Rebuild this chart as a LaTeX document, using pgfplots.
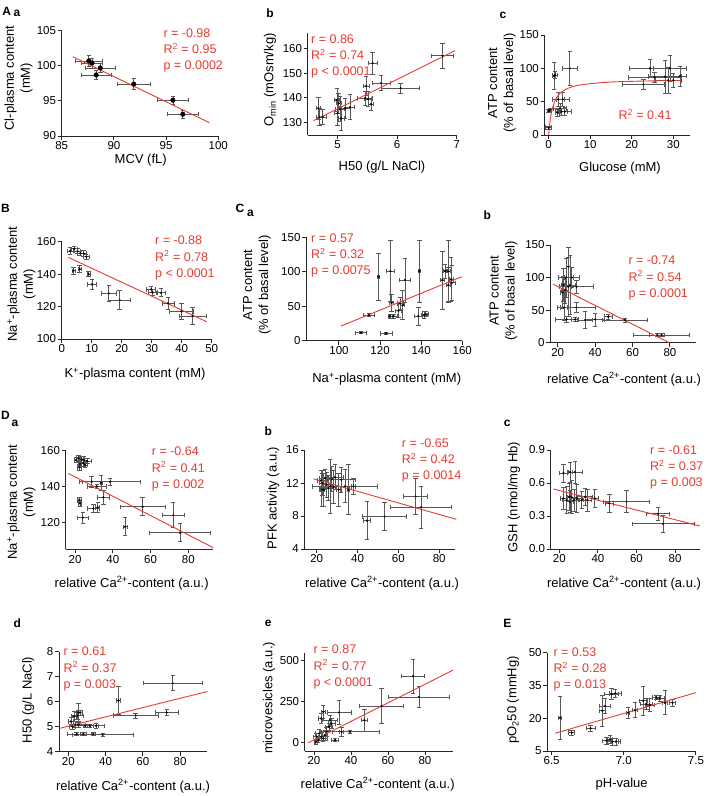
\documentclass[border=0pt]{standalone}
\usepackage{fontspec}
\setmainfont{Liberation Sans}
\usepackage{pgfplots}
\pgfplotsset{compat=1.18}
\definecolor{rred}{RGB}{232,58,46}
\definecolor{ebar}{RGB}{88,88,88}
\newcommand{\lab}{\fontsize{13}{16}\selectfont}
\newcommand{\st}{\fontsize{12.5}{15}\selectfont}
\pgfplotsset{
  gp/.style={
    scale only axis, anchor=south west,
    axis x line*=bottom, axis y line*=left,
    axis line style={-, line width=1pt, black!85},
    tick style={line width=1pt, black!85},
    major tick length=4pt,
    tick align=outside,
    ticklabel style={font=\fontsize{11.5}{13}\selectfont, inner sep=1.5pt},
    /pgf/number format/assume math mode=true,
    clip=false,
  },
  eb/.style={only marks, mark=*, mark size=0.9pt, mark options={fill=black, draw=black},
    error bars/x dir=both, error bars/x explicit, error bars/y dir=both, error bars/y explicit,
    error bars/error bar style={line width=0.75pt, ebar},
    error bars/error mark options={rotate=90, line width=0.75pt, ebar, mark size=2.2pt}},
  fit/.style={rred, line width=0.9pt, no marks},
}
\tikzset{
  ylab/.style={rotate=90, align=center, font=\lab, inner sep=0pt},
  xlab/.style={font=\lab, inner sep=0pt},
  stat/.style={font=\st, text=rred, inner sep=0pt, anchor=west, text height=9pt, text depth=2.5pt},
  plab/.style={font=\fontsize{12}{14}\selectfont\bfseries, inner sep=0pt},
}
\newcommand{\stats}[5]{\node[stat] at (#1pt,-#2pt) {#3};\node[stat,yshift=-16.2pt] at (#1pt,-#2pt) {#4};\node[stat,yshift=-32.4pt] at (#1pt,-#2pt) {#5};}
\begin{document}
\begin{tikzpicture}
\path[use as bounding box] (0,0) rectangle (708pt,-796pt);
% ---------------- A a
\begin{axis}[gp, at={(61.7pt,-136pt)}, width=156.6pt, height=105.3pt, xmin=85, xmax=100, ymin=90, ymax=105, xtick={85,90,95,100}, ytick={90,95,100,105}]
\addplot[eb, mark size=2.3pt] table[row sep=\\, x=x, y=y, x error=ex, y error=ey]{
x y ex ey\\
87.6 100.7 1.25 0.8\\
87.9 100.4 1.0 0.7\\
88.7 99.7 1.4 0.6\\
88.3 98.7 1.45 0.6\\
91.9 97.4 1.6 0.8\\
95.65 95.1 1.5 0.6\\
96.6 93.1 1.5 0.6\\
};
\addplot[fit] coordinates {(86.05,101.3) (99.14,91.9)};
\end{axis}
% ---------------- A b
\begin{axis}[gp, at={(307.7pt,-135pt)}, width=149pt, height=101.6pt, xmin=4.5, xmax=7, ymin=125, ymax=166, xtick={5,6,7}, ytick={130,140,150,160}]
\addplot[eb] table[row sep=\\, x=x, y=y, x error=ex, y error=ey]{
x y ex ey\\
4.70 132.2 0.05 3.5\\
4.68 135.8 0.04 4.5\\
4.75 132.3 0.06 3\\
5.00 133.8 0.05 5\\
5.02 137.8 0.04 4\\
5.04 135.4 0.08 5\\
5.06 131.7 0.05 5\\
4.99 139.2 0.04 4.5\\
5.13 135.8 0.08 4\\
5.21 136.2 0.08 5\\
5.46 139.8 0.12 3\\
5.48 144.8 0.05 4\\
5.59 154 0.08 4.5\\
5.51 139.5 0.06 3\\
5.56 137.4 0.05 2.5\\
5.73 145.9 0.15 3\\
6.06 143.9 0.32 2\\
6.76 157 0.18 5\\
};
\addplot[fit] coordinates {(4.60,130.8) (6.97,159)};
\end{axis}
% ---------------- A c
\begin{axis}[gp, at={(544.5pt,-135pt)}, width=145.4pt, height=100pt, xmin=-1, xmax=34, ymin=0, ymax=150, xtick={0,10,20,30}, ytick={0,50,100,150}]
\addplot[eb] table[row sep=\\, x=x, y=y, x error=ex, y error=ey]{
x y ex ey\\
0.0 11 0.7 2\\
0.0 36 0.4 2\\
0.3 37.5 0.4 2\\
1.3 88.5 0.4 20\\
1.5 90 0.6 5\\
5.1 100 1.8 25\\
2.3 53.5 1.5 10\\
3.4 53.5 1.5 10\\
2.7 40 1.5 8\\
3.1 35 1.5 5\\
3.9 35 1.5 6\\
2.1 33.5 0.5 5\\
22.8 76 5 8\\
24.4 100 5 13\\
25.5 86.5 6.2 8\\
28 87.5 4 25\\
29.2 100 4 20\\
28.8 82 3 20\\
31.6 88.5 1.5 15\\
30 82 2 10\\
};
\addplot[fit, smooth] coordinates {(0,0) (0.2,14) (0.4,24) (0.7,34) (1,42) (1.5,51) (2,57) (3,64) (4,68) (5,71) (7,74.5) (10,77) (15,79.5) (20,80.5) (25,81.2) (31.6,81.8)};
\end{axis}
% ---------------- B
\begin{axis}[gp, at={(61.7pt,-339pt)}, width=150pt, height=97.3pt, xmin=0, xmax=50, ymin=100, ymax=160, xtick={0,10,20,30,40,50}, ytick={100,120,140,160}]
\addplot[eb] table[row sep=\\, x=x, y=y, x error=ex, y error=ey]{
x y ex ey\\
2.8 154.2 1 2\\
4.2 155.6 1 1.5\\
5.3 154.2 1 1.5\\
6.2 152.8 1 1.5\\
7.3 152.8 1 2\\
8.2 150.7 1 1.5\\
3.9 142.1 0.5 2\\
6.0 143.1 0.5 2\\
9.0 140 0.6 1.5\\
10.1 133.7 1.5 3\\
15.7 128.1 2.5 5\\
19.3 124 3.7 6\\
29.8 130.6 1.5 2\\
30.3 128.7 1.5 2\\
33.1 128.5 1.5 2.5\\
35.4 122 2 3.5\\
39.9 117 4 5\\
43.6 114.2 4.5 5\\
};
\addplot[fit] coordinates {(2.25,150.3) (48.3,110.7)};
\end{axis}
% ---------------- C a
\begin{axis}[gp, at={(306.1pt,-340.7pt)}, width=156.2pt, height=103.4pt, xmin=84, xmax=160, ymin=0, ymax=150, xtick={100,120,140,160}, ytick={0,50,100,150}]
\addplot[eb] table[row sep=\\, x=x, y=y, x error=ex, y error=ey]{
x y ex ey\\
110.7 11.6 2.5 1.5\\
122.9 10.6 3 2\\
114.6 37.2 2.8 2.5\\
119.2 92.8 0.5 33.8\\
125.0 101 2 44\\
125.6 55 1 12\\
124.8 35.7 1 3\\
126.5 35.7 2 3\\
129.7 54 1.5 9\\
128.9 43.5 1.5 10\\
131 51.7 1 21\\
132.1 88 2.5 32\\
139.1 101 0.3 45\\
138.6 35.7 2 13\\
141.4 37 1.5 5\\
142.2 38.6 1.5 4\\
150.3 88 1 42\\
151.6 101 1 10\\
153.2 101 1 44\\
153.2 80.7 1 25\\
154.5 88.9 1 32\\
154.9 84 1.5 25\\
};
\addplot[fit] coordinates {(101,21.3) (159.7,92.8)};
\end{axis}
% ---------------- C b
\begin{axis}[gp, at={(550.2pt,-342.7pt)}, width=146pt, height=97.7pt, xmin=16, xmax=94, ymin=0, ymax=150, xtick={20,40,60,80}, ytick={0,50,100,150}]
\addplot[eb] table[row sep=\\, x=x, y=y, x error=ex, y error=ey]{
x y ex ey\\
23 88.6 1 25\\
24.4 100 4 30\\
25.7 116.7 1 30\\
25.7 86 1.5 45\\
23.9 81 2 20\\
22.7 77 1 25\\
26.6 88.6 3 45\\
27.5 100 4 15\\
30 86 9 10\\
30 54 10 8\\
23.4 54 2 20\\
24.8 35.8 6 4\\
29.3 35.8 2 3\\
34.6 34.8 4 13\\
40 35.8 5 10\\
47 40 2 4\\
56 34.8 12 3\\
73.2 11.8 4 2\\
75.5 11.8 15 2\\
};
\addplot[fit] coordinates {(17.7,89.6) (79.6,0)};
\end{axis}
% ---------------- D a
\begin{axis}[gp, at={(65.6pt,-549.3pt)}, width=147.3pt, height=98.6pt, xmin=15, xmax=93, ymin=105, ymax=160, xtick={20,40,60,80}, ytick={120,140,160}]
\addplot[eb] table[row sep=\\, x=x, y=y, x error=ex, y error=ey]{
x y ex ey\\
20.5 154.8 1 1.5\\
21.8 155.7 1 1.5\\
23.5 155.2 1 1.5\\
24.8 154.8 1.5 2\\
26.5 154.2 2 1.5\\
22.6 152.6 1 1.5\\
24.4 153 1 1.5\\
22.3 150.7 1 1.5\\
25.3 152 1 1.5\\
22.3 132.5 1 1.5\\
22.6 130.6 1 1.5\\
24.1 122.6 3 3\\
29.7 127.8 3 2\\
32 128.4 1 3\\
28.8 142.7 5 3\\
33.8 142 0.5 4\\
38.5 142.7 16 2\\
31.5 140 5 1\\
35 134 3 4\\
46.5 117.6 1 5\\
55.8 128.7 12 5\\
72 124 6 7\\
75.6 114.2 16 5\\
};
\addplot[fit] coordinates {(16.5,147.3) (93.2,105.9)};
\end{axis}
% ---------------- D b
\begin{axis}[gp, at={(304.5pt,-549pt)}, width=151pt, height=99pt, xmin=14, xmax=88, ymin=4, ymax=16, xtick={20,40,60,80}, ytick={4,8,12,16}]
\addplot[eb] table[row sep=\\, x=x, y=y, x error=ex, y error=ey]{
x y ex ey\\
22.1 12.3 2 1.2\\
22.8 12 1.5 1.5\\
24.1 12.6 3 1\\
24.9 11.8 2 1.5\\
25.7 11.4 1.5 1.5\\
23.3 11.2 1.5 2\\
27.4 12.5 3 1.5\\
29 12.7 4 1.5\\
32 12.4 7 1.5\\
33.9 11.6 16 2\\
26.6 11.6 1 3.3\\
28.2 11.5 1.5 2\\
30.7 11.2 1 2\\
35.5 11.2 0.5 3\\
38 11.6 1 1\\
22.5 11.2 1 2\\
44.6 7.44 1.8 2.3\\
53.3 7.93 10.8 1.7\\
68.4 10.36 5.7 2.2\\
71.1 9.06 14.9 2.55\\
};
\addplot[fit] coordinates {(18.4,12.5) (88.4,7.6)};
\end{axis}
% ---------------- D c
\begin{axis}[gp, at={(550.7pt,-549pt)}, width=149.4pt, height=99pt, xmin=15.5, xmax=93, ymin=0, ymax=0.9, xtick={20,40,60,80}, ytick={0,0.3,0.6,0.9}, yticklabels={0.0,0.3,0.6,0.9}]
\addplot[eb] table[row sep=\\, x=x, y=y, x error=ex, y error=ey]{
x y ex ey\\
22.1 0.69 2 0.08\\
25.5 0.70 1 0.09\\
28.1 0.70 4 0.1\\
22.1 0.46 1.5 0.1\\
23.8 0.445 2 0.12\\
25.2 0.475 1 0.12\\
25.5 0.43 2 0.1\\
26.4 0.47 3 0.15\\
27.6 0.445 2 0.1\\
29 0.46 3 0.13\\
31.6 0.445 1 0.08\\
33.3 0.475 4 0.08\\
34.5 0.445 2 0.1\\
38.4 0.46 2 0.08\\
45.9 0.415 2 0.08\\
54.8 0.43 12 0.1\\
71.2 0.32 6 0.06\\
73.8 0.23 16 0.08\\
};
\addplot[fit] coordinates {(16.9,0.545) (92.8,0.21)};
\end{axis}
% ---------------- D d
\begin{axis}[gp, at={(59pt,-751.5pt)}, width=148pt, height=100pt, xmin=15, xmax=94.5, ymin=4, ymax=8, xtick={20,40,60,80}, ytick={4,5,6,7,8}]
\addplot[eb] table[row sep=\\, x=x, y=y, x error=ex, y error=ey]{
x y ex ey\\
21.4 5.2 1.5 0.15\\
22.3 5.0 1.5 0.1\\
23.6 5.07 2 0.12\\
25.4 5.07 4 0.1\\
23 5.4 1.5 0.2\\
25.4 5.56 1 0.35\\
24.9 5.43 3 0.15\\
26.3 5.56 1.5 0.1\\
24.5 4.7 5 0.05\\
28.1 4.7 1.5 0.05\\
33.4 4.7 1 0.07\\
38.5 4.67 16.5 0.07\\
29 5.03 1 0.05\\
31.6 5.03 8 0.05\\
34.9 5.03 1.5 0.1\\
46.9 6.04 1.3 0.55\\
56.2 5.44 12 0.1\\
72.9 5.56 6 0.12\\
76.1 6.73 16 0.3\\
};
\addplot[fit] coordinates {(15.5,4.93) (94.7,6.4)};
\end{axis}
% ---------------- D e
\begin{axis}[gp, at={(304.75pt,-751pt)}, width=148pt, height=98.4pt, xmin=15, xmax=95, ymin=-50, ymax=550, xtick={20,40,60,80}, ytick={0,250,500}]
\addplot[eb] table[row sep=\\, x=x, y=y, x error=ex, y error=ey]{
x y ex ey\\
21 6 1 15\\
22.3 16 1.5 15\\
21.4 37 1.5 20\\
22.7 57 2 25\\
24.1 37 2 25\\
25 26 2 20\\
25.9 47 1.5 30\\
26.8 67 3 25\\
28.1 98 2 20\\
29.5 118 2 30\\
31.3 16 2 10\\
23.8 148 1.5 30\\
25 189 1 40\\
28.6 138 4 30\\
33.5 185 6.5 75\\
34.9 67 1 30\\
39.4 67 16.2 10\\
47.2 138 1.8 68\\
56.5 224 11.9 108\\
73.6 406 6.3 102\\
76.7 280 16.4 65\\
};
\addplot[fit] coordinates {(16.9,0) (95.2,443)};
\end{axis}
% ---------------- E
\begin{axis}[gp, at={(547.3pt,-751pt)}, width=148.6pt, height=98.3pt, xmin=6.47, xmax=7.5, ymin=5, ymax=50, xtick={6.5,7,7.5}, xticklabels={6.5,7.0,7.5}, ytick={5,20,35,50}]
\addplot[eb] table[row sep=\\, x=x, y=y, x error=ex, y error=ey]{
x y ex ey\\
6.558 20.2 0.01 10\\
6.639 13.4 0.02 1.2\\
6.77 15.4 0.03 1.5\\
6.881 9.7 0.03 1.5\\
6.904 10.3 0.02 2\\
6.923 9.3 0.04 1.5\\
6.946 9.3 0.03 1.5\\
6.851 23.4 0.02 7\\
6.87 25.6 0.04 3.5\\
6.916 31.1 0.05 2.5\\
6.94 31.4 0.04 2\\
7.031 22.5 0.01 2.5\\
7.077 23.7 0.02 3.5\\
7.135 28 0.03 6.5\\
7.158 26.5 0.04 2.5\\
7.18 26 0.03 3\\
7.227 29.5 0.03 1\\
7.25 29.1 0.03 1.5\\
7.285 27.1 0.02 5.5\\
7.338 27.1 0.02 1.5\\
};
\addplot[fit] coordinates {(6.523,13.1) (7.5,31.7)};
\end{axis}
% ---------------- labels
\node[ylab] at (18.5pt,-78pt) {Cl-plasma content\\(mM)};
\node[ylab] at (270pt,-80pt) {O\textsubscript{min} (mOsm/kg)};
\node[ylab] at (502pt,-83pt) {ATP content\\(\% of basal level)};
\node[ylab] at (21.5pt,-284pt) {Na\textsuperscript{+}-plasma content\\(mM)};
\node[ylab] at (257pt,-285pt) {ATP content\\(\% of basal level)};
\node[ylab] at (503.5pt,-290.7pt) {ATP content\\(\% of basal level)};
\node[ylab] at (21.5pt,-502pt) {Na\textsuperscript{+}-plasma content\\(mM)};
\node[ylab] at (273.3pt,-498pt) {PFK activity (a.u.)};
\node[ylab] at (514pt,-497pt) {GSH (nmol/mg Hb)};
\node[ylab] at (28.3pt,-700pt) {H50 (g/L NaCl)};
\node[ylab] at (269pt,-698pt) {microvesicles (a.u.)};
\node[ylab] at (513pt,-700pt) {pO\textsubscript{2}50 (mmHg)};
\node[xlab] at (140.7pt,-160pt) {MCV (fL)};
\node[xlab] at (382pt,-167pt) {H50 (g/L NaCl)};
\node[xlab] at (620pt,-168pt) {Glucose (mM)};
\node[xlab] at (135pt,-374pt) {K\textsuperscript{+}-plasma content (mM)};
\node[xlab] at (386.7pt,-379pt) {Na\textsuperscript{+}-plasma content (mM)};
\node[xlab] at (624pt,-379pt) {relative Ca\textsuperscript{2+}-content (a.u.)};
\node[xlab] at (131.7pt,-583pt) {relative Ca\textsuperscript{2+}-content (a.u.)};
\node[xlab] at (382pt,-583pt) {relative Ca\textsuperscript{2+}-content (a.u.)};
\node[xlab] at (624pt,-583pt) {relative Ca\textsuperscript{2+}-content (a.u.)};
\node[xlab] at (133pt,-786pt) {relative Ca\textsuperscript{2+}-content (a.u.)};
\node[xlab] at (377.7pt,-784pt) {relative Ca\textsuperscript{2+}-content (a.u.)};
\node[xlab] at (621.7pt,-784pt) {pH-value};
% ---------------- stats
\stats{163.3}{34.3}{r = -0.98}{R\textsuperscript{2} = 0.95}{p = 0.0002}
\stats{311}{40}{r = 0.86}{R\textsuperscript{2} = 0.74}{p < 0.0001}
\node[stat] at (618.3pt,-116.7pt) {R\textsuperscript{2} = 0.41};
\stats{155}{241.7}{r = -0.88}{R\textsuperscript{2} = 0.78}{p < 0.0001}
\stats{311}{239.3}{r = 0.57}{R\textsuperscript{2} = 0.32}{p = 0.0075}
\stats{628.3}{261.7}{r = -0.74}{R\textsuperscript{2} = 0.54}{p = 0.0001}
\stats{151.7}{452.7}{r = -0.64}{R\textsuperscript{2} = 0.41}{p = 0.002}
\stats{401.7}{444}{r = -0.65}{R\textsuperscript{2} = 0.42}{p = 0.0014}
\stats{650}{451}{r = -0.61}{R\textsuperscript{2} = 0.37}{p = 0.003}
\stats{63.3}{652.7}{r = 0.61}{R\textsuperscript{2} = 0.37}{p = 0.003}
\stats{313.3}{650.7}{r = 0.87}{R\textsuperscript{2} = 0.77}{p < 0.0001}
\stats{553.3}{653.3}{r = 0.53}{R\textsuperscript{2} = 0.28}{p = 0.013}
% ---------------- panel letters
\node[plab] at (6.7pt,-11.7pt) {A};
\node[plab] at (17pt,-13.5pt) {a};
\node[plab] at (270pt,-13.3pt) {b};
\node[plab] at (503pt,-15pt) {c};
\node[plab] at (5.5pt,-208.3pt) {B};
\node[plab] at (240pt,-208.3pt) {C};
\node[plab] at (250.5pt,-213pt) {a};
\node[plab] at (487.3pt,-215pt) {b};
\node[plab] at (5.5pt,-415pt) {D};
\node[plab] at (15pt,-423.3pt) {a};
\node[plab] at (268.3pt,-431.7pt) {b};
\node[plab] at (507.3pt,-423.3pt) {c};
\node[plab] at (17.3pt,-623.3pt) {d};
\node[plab] at (268.3pt,-623.3pt) {e};
\node[plab] at (507.3pt,-623.3pt) {E};
\end{tikzpicture}
\end{document}
